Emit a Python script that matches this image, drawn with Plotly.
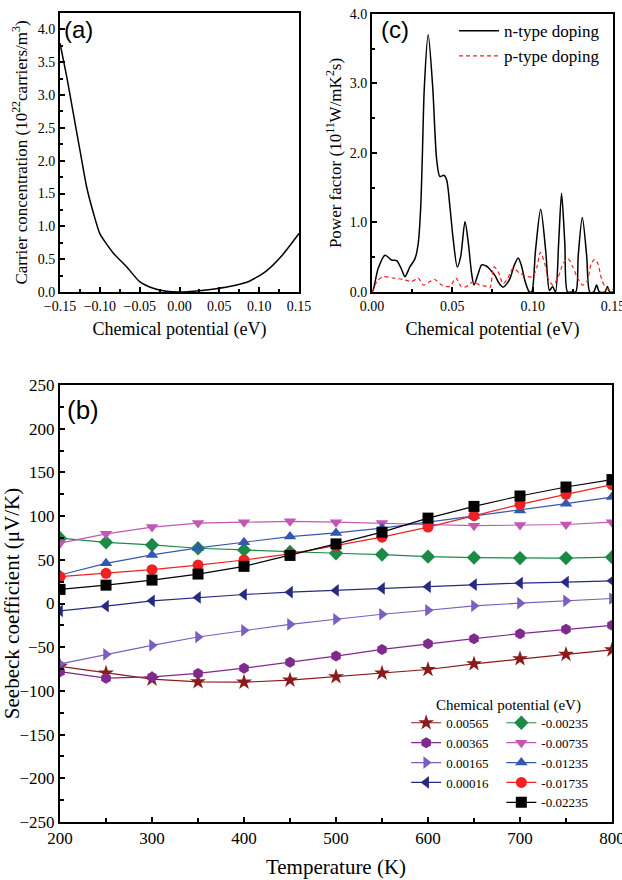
import plotly.graph_objects as go

# ---------- Panel (a): carrier concentration ----------
mu_a = [-0.15, -0.1416, -0.1333, -0.125, -0.1166, -0.108, -0.10, -0.083, -0.0664, -0.05,
        -0.033, -0.016, 0.0, 0.01, 0.025, 0.046, 0.066, 0.087, 0.108, 0.129, 0.15]
n_a = [3.79, 3.28, 2.72, 2.16, 1.60, 1.20, 0.89, 0.59, 0.385, 0.157,
       0.056, 0.01, 0.0, 0.005, 0.02, 0.05, 0.09, 0.16, 0.31, 0.56, 0.89]

# ---------- Panel (c): power factor ----------
mu_n = [0.0, 0.0008, 0.0039, 0.0081, 0.0122, 0.0154, 0.0185, 0.0205, 0.0236, 0.0268,
        0.0288, 0.0303, 0.0313, 0.0326, 0.035, 0.0378, 0.0403, 0.0423, 0.0448, 0.0465,
        0.0485, 0.0506, 0.0531, 0.0552, 0.0579, 0.0600, 0.062, 0.0635, 0.0662, 0.0683,
        0.0714, 0.074, 0.0765, 0.079, 0.0817, 0.084, 0.086, 0.0885, 0.091, 0.093,
        0.095, 0.097, 0.098, 0.0994, 0.1018, 0.105, 0.1081, 0.1105, 0.1124, 0.1142,
        0.1162, 0.118, 0.1200, 0.1217, 0.124, 0.1268, 0.1284, 0.1309, 0.1336, 0.1356,
        0.138, 0.1398, 0.1415, 0.145, 0.1465, 0.148, 0.15]
pf_n = [0.0, 0.03, 0.34, 0.53, 0.46, 0.45, 0.32, 0.22, 0.36, 0.48,
        0.70, 1.20, 1.90, 2.95, 3.70, 2.95, 1.90, 1.66, 1.68, 1.61,
        1.23, 0.75, 0.36, 0.51, 1.01, 0.70, 0.27, 0.10, 0.27, 0.39,
        0.37, 0.31, 0.24, 0.13, 0.07, 0.12, 0.20, 0.38, 0.49, 0.38,
        0.18, 0.04, 0.0, 0.0, 0.60, 1.19, 0.60, 0.02, 0.08, 0.0,
        0.71, 1.42, 0.71, 0.0, 0.0, 0.0, 0.53, 1.07, 0.53, 0.0,
        0.0, 0.10, 0.0, 0.0, 0.08, 0.0, 0.0]

mu_p = [0.0, 0.0008, 0.003, 0.007, 0.0133, 0.0195, 0.0247, 0.0288, 0.032, 0.036,
        0.039, 0.0434, 0.0485, 0.0523, 0.0558, 0.059, 0.063, 0.067, 0.0714, 0.0734,
        0.076, 0.079, 0.0815, 0.0846, 0.0878, 0.092, 0.097, 0.1, 0.1027, 0.1048,
        0.1075, 0.11, 0.1127, 0.116, 0.119, 0.122, 0.125, 0.128, 0.131, 0.1338,
        0.1365, 0.1386, 0.1406, 0.1427, 0.145, 0.148, 0.15]
pf_p = [0.0, 0.03, 0.15, 0.22, 0.20, 0.18, 0.15, 0.20, 0.10, 0.15,
        0.18, 0.10, 0.08, 0.20, 0.07, 0.08, 0.15, 0.10, 0.08, 0.06,
        0.36, 0.27, 0.12, 0.20, 0.34, 0.27, 0.22, 0.22, 0.36, 0.57,
        0.41, 0.17, 0.10, 0.22, 0.41, 0.48, 0.36, 0.20, 0.10, 0.15,
        0.41, 0.47, 0.41, 0.20, 0.08, 0.03, 0.04]

# ---------- Panel (b): Seebeck coefficient ----------
T = [200, 250, 300, 350, 400, 450, 500, 550, 600, 650, 700, 750, 800]
series_names = ["0.00565", "0.00365", "0.00165", "0.00016",
                "-0.00235", "-0.00735", "-0.01235", "-0.01735", "-0.02235"]
S_p00565 = [-72, -79.6, -86.5, -89.6, -90, -87.7, -83.8, -79.6, -75.5, -69, -63.2, -58.2, -53]
S_p00365 = [-78, -85.4, -84, -80, -74, -67.3, -60.2, -52.5, -46, -40.2, -34.5, -29.5, -25]
S_p00165 = [-69, -58.2, -47.9, -38.3, -30.7, -23.8, -18, -12.3, -7.7, -2.7, 0.4, 3.1, 5.7]
S_p00016 = [-8.4, -3.1, 3.1, 6.9, 10.3, 13, 15, 17.2, 19.2, 21.5, 23.4, 24.5, 26]
S_m00235 = [74.7, 70, 67, 63.2, 61.3, 59, 57.5, 56, 53.6, 52.5, 52, 52, 53]
S_m00735 = [69, 79.7, 87.4, 92, 93, 94, 93, 92, 90.4, 89, 89.7, 90.4, 93]
S_m01235 = [32.6, 46, 55.6, 63.6, 70.1, 76.6, 80.8, 86.2, 93.1, 100, 106.5, 114.2, 121.8]
S_m01735 = [30.7, 34.5, 38.7, 44, 49.8, 56.7, 66.3, 75.9, 87.4, 100.5, 113.4, 124.9, 136]
S_m02235 = [16.1, 21, 26.8, 33.7, 42.5, 55.0, 68.2, 81.6, 97.7, 111.1, 123, 133.3, 141.8]
S_all = [S_p00565, S_p00365, S_p00165, S_p00016, S_m00235, S_m00735, S_m01235, S_m01735, S_m02235]

colors = ["#8B1A1A", "#7F2A8C", "#7A5EC2", "#262A80", "#1B8A48",
          "#C257B4", "#3458B0", "#EE2222", "#000000"]
symbols = ["star", "hexagon", "triangle-right", "triangle-left", "diamond",
           "triangle-down", "triangle-up", "circle", "square"]
legend_ids = ["legend"] * 4 + ["legend2"] * 5

SERIF = '"Liberation Serif", "Times New Roman", Times, serif'
SANS = '"Liberation Sans", Arial, Helvetica, sans-serif'

fig = go.Figure()

fig.add_trace(go.Scatter(x=mu_a, y=n_a, mode="lines", line=dict(color="black", width=1.5, shape="spline", smoothing=0.6),
                         xaxis="x", yaxis="y", showlegend=False))

fig.add_trace(go.Scatter(x=mu_n, y=pf_n, mode="lines", name="n-type doping",
                         line=dict(color="black", width=1.5, shape="spline", smoothing=0.8),
                         xaxis="x2", yaxis="y2", legend="legend3"))
fig.add_trace(go.Scatter(x=mu_p, y=pf_p, mode="lines", name="p-type doping",
                         line=dict(color="#EE2222", width=1.2, dash="4px,3px", shape="spline", smoothing=0.8),
                         xaxis="x2", yaxis="y2", legend="legend3"))

for name, s, c, sym, lg in zip(series_names, S_all, colors, symbols, legend_ids):
    fig.add_trace(go.Scatter(x=T, y=s, mode="lines+markers", name=name,
                             line=dict(color=c, width=1.2),
                             marker=dict(symbol=sym, size=11 if sym != "star" else 12, color=c),
                             xaxis="x3", yaxis="y3", legend=lg))

def ax(**kw):
    base = dict(showline=True, linecolor="black", linewidth=2, mirror=True,
                ticks="inside", ticklen=5, tickwidth=1.5, tickcolor="black",
                showgrid=False, zeroline=False, automargin=False,
                ticklabeloverflow="allow",
                tickfont=dict(family=SERIF, size=14, color="black"))
    base.update(kw)
    return base

fig.update_layout(
    width=622, height=880,
    margin=dict(l=0, r=0, t=0, b=0, autoexpand=False),
    paper_bgcolor="white", plot_bgcolor="white",
    font=dict(family=SERIF, color="black"),
    xaxis=ax(domain=[0.0965, 0.4807], range=[-0.15, 0.15], dtick=0.05, tick0=0, tickformat=".2f",
             minor=dict(dtick=0.025, ticks="inside", ticklen=3, tickcolor="black"),
             title=dict(text="Chemical potential (eV)", font=dict(family=SERIF, size=18), standoff=10),
             anchor="y"),
    yaxis=ax(domain=[0.6682, 0.9852], range=[0, 4.25], dtick=0.5, tick0=0, tickformat=".1f",
             minor=dict(dtick=0.25, ticks="inside", ticklen=3, tickcolor="black"),
             title=dict(text="Carrier concentration (10<sup>22</sup>carriers/m<sup>3</sup>)",
                        font=dict(family=SERIF, size=17), standoff=6),
             anchor="x"),
    xaxis2=ax(domain=[0.598, 0.9855], range=[0, 0.15], dtick=0.05, tick0=0, tickformat=".2f",
              minor=dict(dtick=0.025, ticks="inside", ticklen=3, tickcolor="black"),
              title=dict(text="Chemical potential (eV)", font=dict(family=SERIF, size=18), standoff=10),
              anchor="y2"),
    yaxis2=ax(domain=[0.6682, 0.9841], range=[0, 4.0], dtick=1, tick0=0, tickformat=".1f",
              minor=dict(dtick=0.5, ticks="inside", ticklen=3, tickcolor="black"),
              title=dict(text="Power factor (10<sup>11</sup>W/mK<sup>2</sup>s)",
                         font=dict(family=SERIF, size=17), standoff=4),
              anchor="x2"),
    xaxis3=ax(domain=[0.0965, 0.9839], range=[200, 800], dtick=100, tick0=200,
              tickfont=dict(family=SERIF, size=17, color="black"),
              minor=dict(dtick=50, ticks="inside", ticklen=4, tickcolor="black"),
              title=dict(text="Temperature (K)", font=dict(family=SERIF, size=21), standoff=12),
              anchor="y3"),
    yaxis3=ax(domain=[0.0659, 0.5625], range=[-250, 250], dtick=50, tick0=0,
              tickfont=dict(family=SERIF, size=17, color="black"),
              minor=dict(dtick=25, ticks="inside", ticklen=4, tickcolor="black"),
              title=dict(text="Seebeck coefficient (μV/K)", font=dict(family=SERIF, size=21), standoff=4),
              anchor="x3"),
    legend=dict(x=0.653, y=0.1957, xanchor="left", yanchor="top", bgcolor="rgba(0,0,0,0)",
                font=dict(family=SERIF, size=13), tracegroupgap=0, itemwidth=30),
    legend2=dict(x=0.806, y=0.1957, xanchor="left", yanchor="top", bgcolor="rgba(0,0,0,0)",
                 font=dict(family=SERIF, size=13), tracegroupgap=0, itemwidth=30),
    legend3=dict(x=0.73, y=0.985, xanchor="left", yanchor="top", bgcolor="rgba(0,0,0,0)",
                 font=dict(family=SERIF, size=17), tracegroupgap=0, itemwidth=40),
    annotations=[
        dict(text="(a)", x=0.100, y=0.984, xref="paper", yref="paper", xanchor="left", yanchor="top",
             showarrow=False, font=dict(family=SANS, size=24, color="black")),
        dict(text="(c)", x=0.609, y=0.984, xref="paper", yref="paper", xanchor="left", yanchor="top",
             showarrow=False, font=dict(family=SANS, size=24, color="black")),
        dict(text="(b)", x=0.104, y=0.553, xref="paper", yref="paper", xanchor="left", yanchor="top",
             showarrow=False, font=dict(family=SANS, size=26, color="black")),
        dict(text="Chemical potential (eV)", x=0.817, y=1 - 705 / 880, xref="paper", yref="paper",
             xanchor="center", yanchor="middle", showarrow=False,
             font=dict(family=SERIF, size=15, color="black")),
    ],
)

fig.write_html("out.html")
